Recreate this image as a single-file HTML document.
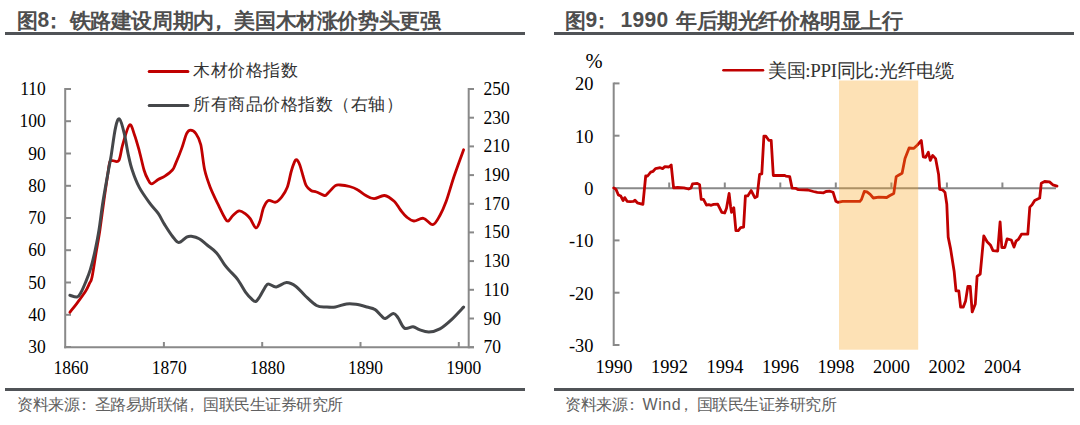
<!DOCTYPE html>
<html><head><meta charset="utf-8"><style>
html,body{margin:0;padding:0;background:#fff;}
body{width:1080px;height:425px;position:relative;overflow:hidden;font-family:"Liberation Sans",sans-serif;}
.t{position:absolute;white-space:nowrap;}
.pc{position:relative;left:-6px;}
.ps{position:relative;left:-3.5px;}
.dg{display:inline-block;transform:translateY(-0.5px) scaleY(1.07);transform-origin:50% 100%;}
.title{font-weight:bold;font-size:21px;letter-spacing:-0.4px;color:#4e4e4e;line-height:1;}
.src{font-size:16px;letter-spacing:-0.5px;color:#606060;line-height:1;}
.bar{position:absolute;background:#505357;height:3px;}
svg{position:absolute;left:0;top:0;}
.num{font-family:"Liberation Serif",serif;font-size:17.5px;fill:#000;}
.num2{font-family:"Liberation Serif",serif;font-size:18.4px;fill:#000;}
.leg{font-family:"Liberation Serif",serif;font-size:17px;letter-spacing:0.5px;color:#333;line-height:1;}
.leg2{font-family:"Liberation Serif",serif;font-size:19px;letter-spacing:-0.35px;color:#333;line-height:1;}
</style></head><body>
<div class="t title" style="left:17px;top:10px">图<span class="dg">8</span><span class="pc">：</span>铁路建设周期内<span class="pc">，</span>美国木材涨价势头更强</div>
<div class="t title" style="left:565px;top:10px">图<span class="dg">9</span><span class="pc" style="letter-spacing:2.6px">：</span><span style="letter-spacing:0.3px" class="dg">1990</span><span style="letter-spacing:1.8px"> </span>年后期光纤价格明显上行</div>
<div class="bar" style="left:5px;top:32px;width:520px"></div>
<div class="bar" style="left:553.5px;top:32px;width:520px"></div>
<div class="bar" style="left:5px;top:388px;width:520px"></div>
<div class="bar" style="left:553.5px;top:388px;width:520px"></div>
<div class="t src" style="left:17px;top:397px">资料来源<span class="ps">：</span>圣路易斯联储<span class="ps">，</span>国联民生证券研究所</div>
<div class="t src" style="left:565px;top:397px">资料来源<span class="ps">：</span><span style="letter-spacing:0.6px">Wind</span><span class="ps">，</span>国联民生证券研究所</div>
<svg width="1080" height="425" viewBox="0 0 1080 425">
<g stroke="#898989" stroke-width="2" fill="none">
<line x1="65.2" y1="88" x2="65.2" y2="348.2"/>
<line x1="64.2" y1="347.2" x2="474" y2="347.2"/>
<line x1="468.7" y1="88" x2="468.7" y2="348.2"/>
<line x1="65" y1="89.0" x2="71" y2="89.0"/><line x1="65" y1="121.2" x2="71" y2="121.2"/><line x1="65" y1="153.5" x2="71" y2="153.5"/><line x1="65" y1="185.8" x2="71" y2="185.8"/><line x1="65" y1="218.0" x2="71" y2="218.0"/><line x1="65" y1="250.2" x2="71" y2="250.2"/><line x1="65" y1="282.5" x2="71" y2="282.5"/><line x1="65" y1="314.8" x2="71" y2="314.8"/><line x1="65" y1="347.0" x2="71" y2="347.0"/><line x1="468.5" y1="89.0" x2="474" y2="89.0"/><line x1="468.5" y1="117.7" x2="474" y2="117.7"/><line x1="468.5" y1="146.4" x2="474" y2="146.4"/><line x1="468.5" y1="175.1" x2="474" y2="175.1"/><line x1="468.5" y1="203.8" x2="474" y2="203.8"/><line x1="468.5" y1="232.4" x2="474" y2="232.4"/><line x1="468.5" y1="261.1" x2="474" y2="261.1"/><line x1="468.5" y1="289.8" x2="474" y2="289.8"/><line x1="468.5" y1="318.5" x2="474" y2="318.5"/><line x1="468.5" y1="347.2" x2="474" y2="347.2"/><line x1="163.9" y1="342" x2="163.9" y2="347.2"/><line x1="262.2" y1="342" x2="262.2" y2="347.2"/><line x1="360.5" y1="342" x2="360.5" y2="347.2"/><line x1="458.8" y1="342" x2="458.8" y2="347.2"/>
<line x1="613.7" y1="82.4" x2="613.7" y2="346"/>
<line x1="613.7" y1="188.3" x2="1056" y2="188.3"/>
<line x1="614" y1="83.4" x2="619.5" y2="83.4"/><line x1="614" y1="135.7" x2="619.5" y2="135.7"/><line x1="614" y1="188.0" x2="619.5" y2="188.0"/><line x1="614" y1="240.4" x2="619.5" y2="240.4"/><line x1="614" y1="292.7" x2="619.5" y2="292.7"/><line x1="614" y1="345.0" x2="619.5" y2="345.0"/><line x1="669.2" y1="182.5" x2="669.2" y2="188.3"/><line x1="724.8" y1="182.5" x2="724.8" y2="188.3"/><line x1="780.3" y1="182.5" x2="780.3" y2="188.3"/><line x1="835.8" y1="182.5" x2="835.8" y2="188.3"/><line x1="891.4" y1="182.5" x2="891.4" y2="188.3"/><line x1="946.9" y1="182.5" x2="946.9" y2="188.3"/><line x1="1002.4" y1="182.5" x2="1002.4" y2="188.3"/>
</g>
<g class="num"><text transform="translate(45.8,95.0) scale(1,1.08)" text-anchor="end">110</text><text transform="translate(45.8,127.2) scale(1,1.08)" text-anchor="end">100</text><text transform="translate(45.8,159.5) scale(1,1.08)" text-anchor="end">90</text><text transform="translate(45.8,191.8) scale(1,1.08)" text-anchor="end">80</text><text transform="translate(45.8,224.0) scale(1,1.08)" text-anchor="end">70</text><text transform="translate(45.8,256.2) scale(1,1.08)" text-anchor="end">60</text><text transform="translate(45.8,288.5) scale(1,1.08)" text-anchor="end">50</text><text transform="translate(45.8,320.8) scale(1,1.08)" text-anchor="end">40</text><text transform="translate(45.8,353.0) scale(1,1.08)" text-anchor="end">30</text><text transform="translate(483.5,95.0) scale(1,1.08)">250</text><text transform="translate(483.5,123.7) scale(1,1.08)">230</text><text transform="translate(483.5,152.4) scale(1,1.08)">210</text><text transform="translate(483.5,181.1) scale(1,1.08)">190</text><text transform="translate(483.5,209.8) scale(1,1.08)">170</text><text transform="translate(483.5,238.4) scale(1,1.08)">150</text><text transform="translate(483.5,267.1) scale(1,1.08)">130</text><text transform="translate(483.5,295.8) scale(1,1.08)">110</text><text transform="translate(483.5,324.5) scale(1,1.08)">90</text><text transform="translate(483.5,353.2) scale(1,1.08)">70</text><text transform="translate(71.0,373.5) scale(1,1.08)" text-anchor="middle">1860</text><text transform="translate(169.2,373.5) scale(1,1.08)" text-anchor="middle">1870</text><text transform="translate(267.4,373.5) scale(1,1.08)" text-anchor="middle">1880</text><text transform="translate(365.6,373.5) scale(1,1.08)" text-anchor="middle">1890</text><text transform="translate(463.8,373.5) scale(1,1.08)" text-anchor="middle">1900</text></g><g class="num2"><text x="593.5" y="90.4" text-anchor="end">20</text><text x="593.5" y="142.7" text-anchor="end">10</text><text x="593.5" y="195.0" text-anchor="end">0</text><text x="593.5" y="247.4" text-anchor="end">-10</text><text x="593.5" y="299.7" text-anchor="end">-20</text><text x="593.5" y="352.0" text-anchor="end">-30</text><text x="614.0" y="372.5" text-anchor="middle">1990</text><text x="669.5" y="372.5" text-anchor="middle">1992</text><text x="725.0" y="372.5" text-anchor="middle">1994</text><text x="780.5" y="372.5" text-anchor="middle">1996</text><text x="836.0" y="372.5" text-anchor="middle">1998</text><text x="891.5" y="372.5" text-anchor="middle">2000</text><text x="947.0" y="372.5" text-anchor="middle">2002</text><text x="1002.5" y="372.5" text-anchor="middle">2004</text>
<text x="585.5" y="68" style="font-size:20.5px">%</text>
</g>
<path d="M69.9,312.3 C71.2,310.6 75.2,305.7 77.8,302.1 C80.4,298.6 83.7,294.1 85.7,291.0 C87.7,287.9 88.5,285.5 89.6,283.2 C90.6,280.9 91.0,282.2 92.0,277.3 C93.0,272.4 94.6,261.6 95.9,253.7 C97.2,245.8 98.6,238.9 99.9,230.0 C101.2,221.1 102.7,209.0 104.0,200.0 C105.3,191.0 106.5,182.3 107.5,176.0 C108.5,169.7 109.0,164.6 109.8,162.0 C110.6,159.4 111.0,160.8 112.5,160.6 C114.0,160.3 117.1,163.2 118.8,160.5 C120.5,157.8 120.9,150.6 122.7,144.7 C124.5,138.8 127.5,126.6 129.5,125.0 C131.5,123.4 133.0,130.9 134.6,135.2 C136.2,139.5 137.7,145.2 139.3,151.0 C140.9,156.8 142.6,165.2 144.0,170.0 C145.4,174.8 146.7,177.2 148.0,179.5 C149.3,181.8 149.9,183.9 151.6,183.9 C153.3,183.9 156.0,180.8 158.2,179.5 C160.3,178.2 162.1,177.9 164.5,176.3 C166.9,174.7 170.6,172.1 172.4,170.0 C174.2,167.9 174.0,167.3 175.6,163.6 C177.2,159.9 180.1,152.9 181.9,147.9 C183.7,142.9 185.2,136.6 186.6,133.7 C188.0,130.8 188.9,130.2 190.5,130.2 C192.1,130.2 194.3,131.3 196.0,133.7 C197.7,136.1 199.4,138.6 200.8,144.7 C202.2,150.8 203.1,162.9 204.7,170.0 C206.3,177.1 208.1,181.6 210.3,187.4 C212.6,193.2 215.8,199.7 218.2,204.7 C220.6,209.7 222.9,214.6 224.5,217.3 C226.1,220.1 226.6,221.5 228.0,221.2 C229.4,220.9 231.0,217.2 232.9,215.5 C234.8,213.8 237.1,211.1 239.2,210.8 C241.3,210.5 243.7,212.6 245.5,213.9 C247.3,215.2 248.5,216.4 250.2,218.7 C251.9,221.0 254.2,227.3 255.8,227.8 C257.4,228.3 258.4,225.2 259.7,221.8 C261.0,218.4 262.2,211.2 263.6,207.6 C265.1,204.0 266.4,201.4 268.4,200.5 C270.4,199.6 273.3,202.8 275.5,202.2 C277.7,201.6 279.8,199.3 281.8,196.8 C283.8,194.3 285.7,191.5 287.3,187.3 C288.9,183.1 290.0,175.7 291.2,171.5 C292.4,167.3 293.5,164.1 294.4,162.1 C295.3,160.1 295.9,159.2 296.8,159.7 C297.7,160.2 298.8,162.4 299.9,165.2 C300.9,168.0 302.1,172.9 303.1,176.3 C304.2,179.7 304.9,183.3 306.2,185.7 C307.5,188.1 309.3,189.4 311.0,190.5 C312.7,191.6 314.3,191.2 316.5,192.0 C318.7,192.8 322.6,195.2 324.4,195.5 C326.2,195.8 325.7,195.2 327.5,193.6 C329.3,192.0 333.3,187.1 335.4,185.7 C337.5,184.3 337.7,184.9 340.1,185.0 C342.5,185.1 346.7,185.7 349.6,186.5 C352.5,187.3 354.9,188.2 357.5,189.7 C360.1,191.1 362.6,193.7 365.4,195.2 C368.1,196.7 370.8,198.6 374.0,198.7 C377.2,198.8 381.1,195.1 384.5,195.5 C387.9,195.9 391.5,198.9 394.2,201.3 C396.9,203.7 398.4,207.4 400.5,210.0 C402.6,212.6 404.6,215.3 406.8,217.1 C409.0,218.9 411.1,220.8 413.9,221.0 C416.7,221.2 420.2,217.7 423.4,218.3 C426.5,218.9 430.1,225.2 432.8,224.7 C435.6,224.2 437.7,219.4 439.9,215.5 C442.1,211.6 443.8,207.8 446.2,201.3 C448.6,194.8 451.2,184.9 454.1,176.3 C457.0,167.7 462.0,154.2 463.6,149.8" stroke="#c00000" stroke-width="2.8" fill="none" stroke-linejoin="round" stroke-linecap="round"/>
<path d="M69.9,295.3 C71.1,295.6 75.2,297.4 77.0,297.0 C78.8,296.6 79.5,295.1 80.9,292.6 C82.4,290.1 84.1,285.9 85.7,282.0 C87.3,278.1 88.8,274.6 90.4,269.4 C92.0,264.1 93.7,257.1 95.1,250.5 C96.5,243.9 97.7,238.2 99.0,230.0 C100.3,221.8 101.4,211.5 103.0,201.5 C104.6,191.5 107.2,177.4 108.5,170.0 C109.8,162.6 109.7,164.4 110.9,157.3 C112.1,150.2 114.1,133.8 115.6,127.4 C117.0,121.0 118.1,118.0 119.6,119.1 C121.0,120.1 122.9,127.8 124.3,133.7 C125.7,139.5 126.9,148.1 128.2,154.2 C129.5,160.2 130.3,164.5 132.2,170.0 C134.0,175.5 136.3,181.8 139.3,187.4 C142.3,193.1 147.2,199.6 150.3,203.9 C153.5,208.2 155.8,210.0 158.2,213.4 C160.6,216.8 162.1,220.6 164.5,224.4 C166.9,228.2 170.0,233.2 172.4,236.2 C174.8,239.2 176.3,242.4 178.7,242.6 C181.1,242.8 184.5,238.1 186.6,237.1 C188.7,236.1 189.2,236.0 191.3,236.3 C193.4,236.6 196.6,237.2 199.2,238.7 C201.8,240.1 204.2,242.6 207.1,245.0 C210.0,247.4 213.7,249.6 216.6,252.9 C219.5,256.2 222.3,261.7 224.5,264.7 C226.7,267.7 227.5,268.4 229.7,270.8 C231.9,273.2 235.0,275.8 237.6,279.4 C240.2,282.9 243.1,288.8 245.5,292.1 C247.9,295.4 250.1,297.6 251.8,299.2 C253.5,300.8 254.5,301.9 255.8,301.5 C257.1,301.1 258.0,299.4 259.7,296.8 C261.4,294.2 264.4,287.9 266.0,285.8 C267.6,283.7 267.5,284.0 269.2,284.2 C270.9,284.4 273.4,287.2 276.3,286.9 C279.2,286.6 283.2,282.7 286.5,282.6 C289.8,282.5 292.9,284.3 296.0,286.5 C299.1,288.7 302.0,292.8 305.4,296.0 C308.8,299.2 313.1,303.7 316.5,305.5 C319.9,307.3 322.8,306.8 325.9,307.0 C329.0,307.2 332.0,307.5 335.4,307.0 C338.8,306.5 343.1,304.4 346.5,303.9 C349.9,303.4 352.5,303.7 355.9,304.2 C359.3,304.7 363.9,306.1 367.0,307.0 C370.1,307.9 372.4,307.9 374.8,309.4 C377.2,310.8 379.4,314.2 381.2,315.7 C382.9,317.2 383.3,318.9 385.3,318.5 C387.3,318.1 391.3,313.5 393.4,313.4 C395.5,313.3 396.3,315.4 398.1,317.9 C399.9,320.3 401.9,326.6 404.4,328.1 C406.9,329.6 410.6,326.5 413.1,326.8 C415.6,327.1 416.8,328.8 419.4,329.7 C422.0,330.6 425.5,332.1 428.9,332.0 C432.3,331.9 436.2,330.9 439.9,328.9 C443.6,326.9 447.1,323.8 451.0,320.2 C454.9,316.6 461.5,309.3 463.6,307.1" stroke="#45474a" stroke-width="3" fill="none" stroke-linejoin="round" stroke-linecap="round"/>
<path d="M613.7,187.9 L616.0,189.4 L618.4,195.0 L620.8,196.1 L623.1,200.5 L624.7,197.6 L627.1,201.3 L630.2,201.7 L633.4,201.3 L635.0,200.2 L637.3,202.8 L642.9,204.4 L645.7,176.0 L647.6,176.0 L650.7,172.1 L653.1,171.3 L655.5,168.6 L660.2,167.7 L662.6,168.6 L664.9,166.6 L668.9,167.0 L671.2,165.0 L673.6,187.9 L677.6,187.5 L683.9,187.9 L688.6,189.0 L691.0,187.9 L692.5,183.9 L697.3,183.4 L699.6,184.7 L701.2,199.4 L703.5,199.4 L706.5,205.1 L708.8,204.7 L711.2,205.3 L713.6,204.4 L717.7,204.1 L721.8,212.4 L724.7,213.0 L726.5,208.3 L729.1,193.5 L730.6,206.5 L731.5,212.4 L733.8,207.7 L735.9,230.6 L738.3,230.6 L740.6,227.7 L743.6,227.1 L745.4,195.9 L747.7,195.9 L751.2,190.6 L754.8,197.7 L757.1,196.5 L759.6,174.4 L761.8,173.9 L763.9,136.2 L765.9,136.2 L768.8,140.3 L771.2,140.3 L773.3,175.5 L784.2,175.3 L785.8,176.1 L789.7,176.6 L792.1,188.1 L796.0,188.4 L798.4,189.7 L807.9,190.0 L813.4,191.5 L817.3,192.3 L823.6,192.8 L826.0,191.5 L829.9,191.2 L833.1,192.3 L835.9,201.3 L837.8,202.3 L842.6,201.3 L847.3,201.3 L852.0,201.3 L859.9,201.3 L861.5,199.4 L864.3,191.5 L867.0,191.9 L870.2,194.4 L873.3,198.0 L878.8,197.1 L886.7,197.5 L889.9,195.5 L893.8,193.4 L896.2,176.6 L898.5,175.3 L902.1,173.3 L905.0,158.6 L909.1,148.0 L913.9,148.3 L917.4,145.0 L921.3,140.5 L923.3,156.8 L925.6,157.4 L928.3,152.3 L930.3,160.3 L932.7,155.4 L935.6,158.6 L938.6,174.5 L939.7,189.4 L942.7,190.0 L945.0,192.4 L946.8,204.2 L948.2,237.1 L950.6,248.9 L954.2,271.8 L956.0,290.9 L958.8,290.9 L960.6,307.0 L963.3,307.0 L965.6,300.9 L967.9,286.3 L970.2,286.3 L972.2,311.9 L975.3,303.9 L977.1,276.4 L980.2,274.1 L983.8,235.9 L987.1,241.8 L990.6,245.3 L993.0,250.6 L997.7,251.0 L1000.1,221.8 L1001.8,247.5 L1004.8,247.5 L1007.1,238.9 L1011.3,240.0 L1014.0,247.1 L1016.0,241.2 L1018.3,239.4 L1021.5,234.2 L1027.8,234.2 L1029.8,207.1 L1032.2,204.6 L1034.7,200.5 L1039.7,198.0 L1041.3,183.2 L1044.6,181.5 L1049.5,181.9 L1052.8,184.8 L1057.0,186.1" stroke="#c00000" stroke-width="2.8" fill="none" stroke-linejoin="round" stroke-linecap="round"/>
<rect x="839" y="80.5" width="79.2" height="269.2" fill="rgba(248,161,25,0.32)"/>
<line x1="149.2" y1="71.4" x2="187.9" y2="71.4" stroke="#c00000" stroke-width="3" stroke-linecap="round"/>
<line x1="149.2" y1="105.5" x2="187.9" y2="105.5" stroke="#45474a" stroke-width="3" stroke-linecap="round"/>
<line x1="723.5" y1="70.2" x2="763" y2="70.2" stroke="#c00000" stroke-width="2.6" stroke-linecap="round"/>
</svg>
<div class="t leg" style="left:193px;top:62px">木材价格指数</div>
<div class="t leg" style="left:193px;top:96px">所有商品价格指数（右轴）</div>
<div class="t leg2" style="left:768px;top:60.5px">美国:PPI同比:光纤电缆</div>
</body></html>
